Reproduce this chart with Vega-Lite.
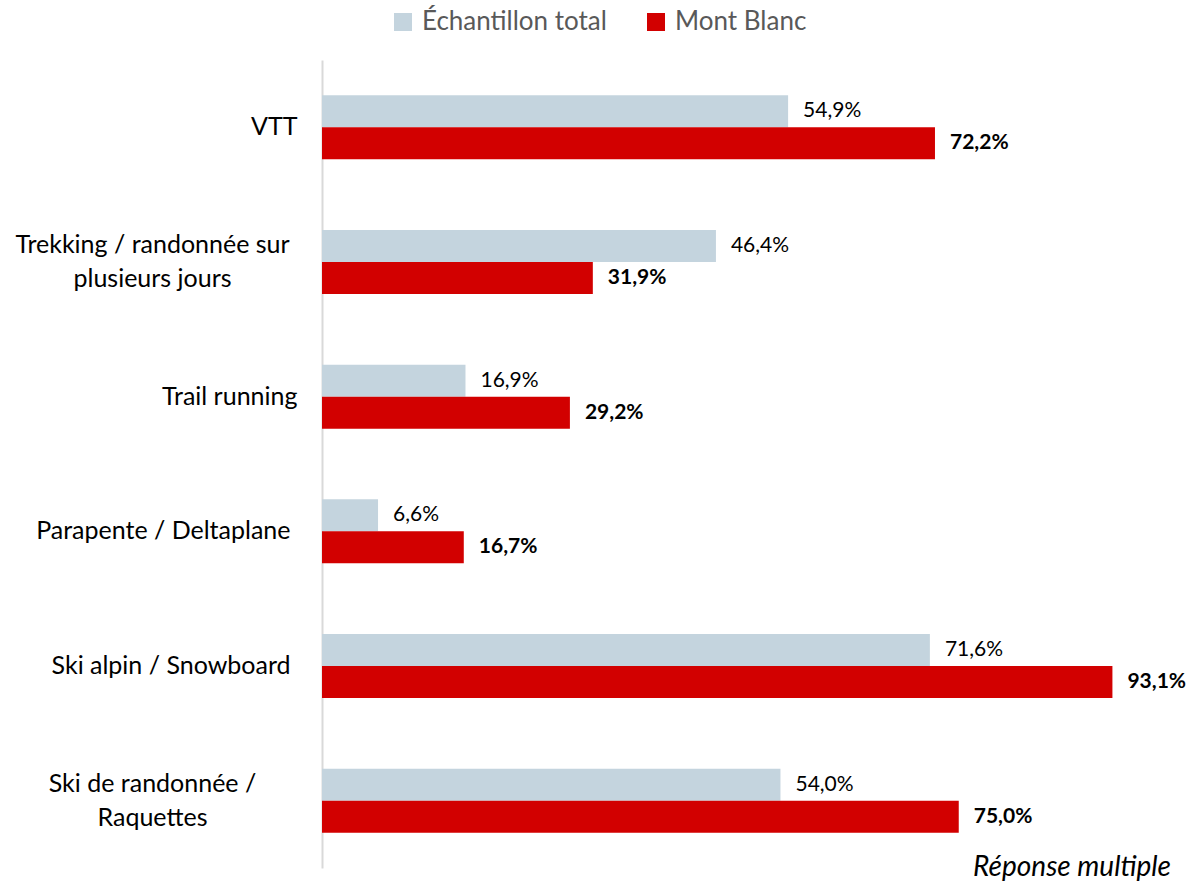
{
  "$schema": "https://vega.github.io/schema/vega-lite/v6.json",
  "width": 849,
  "height": 808,
  "autosize": {"type": "none"},
  "padding": {"left": 322, "top": 60, "right": 30, "bottom": 14},
  "background": "white",
  "config": {
    "view": {"stroke": null},
    "font": "Lato",
    "locale": {"number": {"decimal": ",", "thousands": " ", "grouping": [3], "currency": ["", " €"]}}
  },
  "title": {
    "text": "Réponse multiple",
    "orient": "bottom",
    "anchor": "end",
    "frame": "group",
    "fontStyle": "italic",
    "fontWeight": "normal",
    "fontSize": 28,
    "color": "#000000",
    "offset": -14
  },
  "data": {
    "values": [
      {"activite": "VTT", "serie": "Échantillon total", "valeur": 0.549},
      {"activite": "VTT", "serie": "Mont Blanc", "valeur": 0.722},
      {"activite": "Trekking / randonnée sur|plusieurs jours", "serie": "Échantillon total", "valeur": 0.464},
      {"activite": "Trekking / randonnée sur|plusieurs jours", "serie": "Mont Blanc", "valeur": 0.319},
      {"activite": "Trail running", "serie": "Échantillon total", "valeur": 0.169},
      {"activite": "Trail running", "serie": "Mont Blanc", "valeur": 0.292},
      {"activite": "Parapente / Deltaplane", "serie": "Échantillon total", "valeur": 0.066},
      {"activite": "Parapente / Deltaplane", "serie": "Mont Blanc", "valeur": 0.167},
      {"activite": "Ski alpin / Snowboard", "serie": "Échantillon total", "valeur": 0.716},
      {"activite": "Ski alpin / Snowboard", "serie": "Mont Blanc", "valeur": 0.931},
      {"activite": "Ski de randonnée /|Raquettes", "serie": "Échantillon total", "valeur": 0.540},
      {"activite": "Ski de randonnée /|Raquettes", "serie": "Mont Blanc", "valeur": 0.750}
    ]
  },
  "encoding": {
    "y": {
      "field": "activite",
      "type": "nominal",
      "sort": null,
      "scale": {"paddingInner": 0.525, "paddingOuter": 0.2625},
      "axis": {
        "title": null,
        "ticks": false,
        "domainColor": "#d9d9d9",
        "domainWidth": 2,
        "labelFontSize": 25,
        "labelColor": "#000000",
        "labelLimit": 0,
        "labelExpr": "split(datum.label, '|')",
        "labelLineHeight": 34,
        "labelBaseline": "middle",
        "labelAlign": {"condition": {"test": "indexof(datum.value, '|') >= 0", "value": "center"}, "value": "right"},
        "labelOffset": {"condition": {"test": "indexof(datum.value, '|') >= 0", "value": -17}, "value": 0},
        "labelPadding": {"condition": [
          {"test": "indexof(datum.value, '|') >= 0", "value": 170},
          {"test": "datum.value == 'Parapente / Deltaplane' || datum.value == 'Ski alpin / Snowboard'", "value": 32}
        ], "value": 25}
      }
    },
    "yOffset": {
      "field": "serie",
      "type": "nominal",
      "sort": ["Échantillon total", "Mont Blanc"],
      "scale": {"paddingInner": 0, "paddingOuter": 0}
    },
    "x": {
      "field": "valeur",
      "type": "quantitative",
      "scale": {"domain": [0, 1]},
      "axis": null
    }
  },
  "layer": [
    {
      "mark": {"type": "bar"},
      "encoding": {
        "color": {
          "field": "serie",
          "type": "nominal",
          "scale": {"domain": ["Échantillon total", "Mont Blanc"], "range": ["#c4d4de", "#d20000"]},
          "legend": {
            "title": null,
            "orient": "none",
            "direction": "horizontal",
            "legendX": 68,
            "legendY": -51,
            "symbolType": "square",
            "symbolSize": 324,
            "symbolStrokeWidth": 0,
            "labelFontSize": 26,
            "labelLimit": 0,
            "labelColor": "#595959",
            "labelOffset": 6,
            "columnPadding": 36
          }
        }
      }
    },
    {
      "transform": [{"filter": "datum.serie == 'Échantillon total'"}],
      "mark": {"type": "text", "align": "left", "baseline": "middle", "dx": 15, "fontSize": 21, "color": "#000000"},
      "encoding": {
        "text": {"field": "valeur", "type": "quantitative", "format": ".1%"}
      }
    },
    {
      "transform": [{"filter": "datum.serie == 'Mont Blanc'"}],
      "mark": {"type": "text", "align": "left", "baseline": "middle", "dx": 15, "fontSize": 21, "fontWeight": "bold", "color": "#000000"},
      "encoding": {
        "text": {"field": "valeur", "type": "quantitative", "format": ".1%"}
      }
    }
  ]
}
